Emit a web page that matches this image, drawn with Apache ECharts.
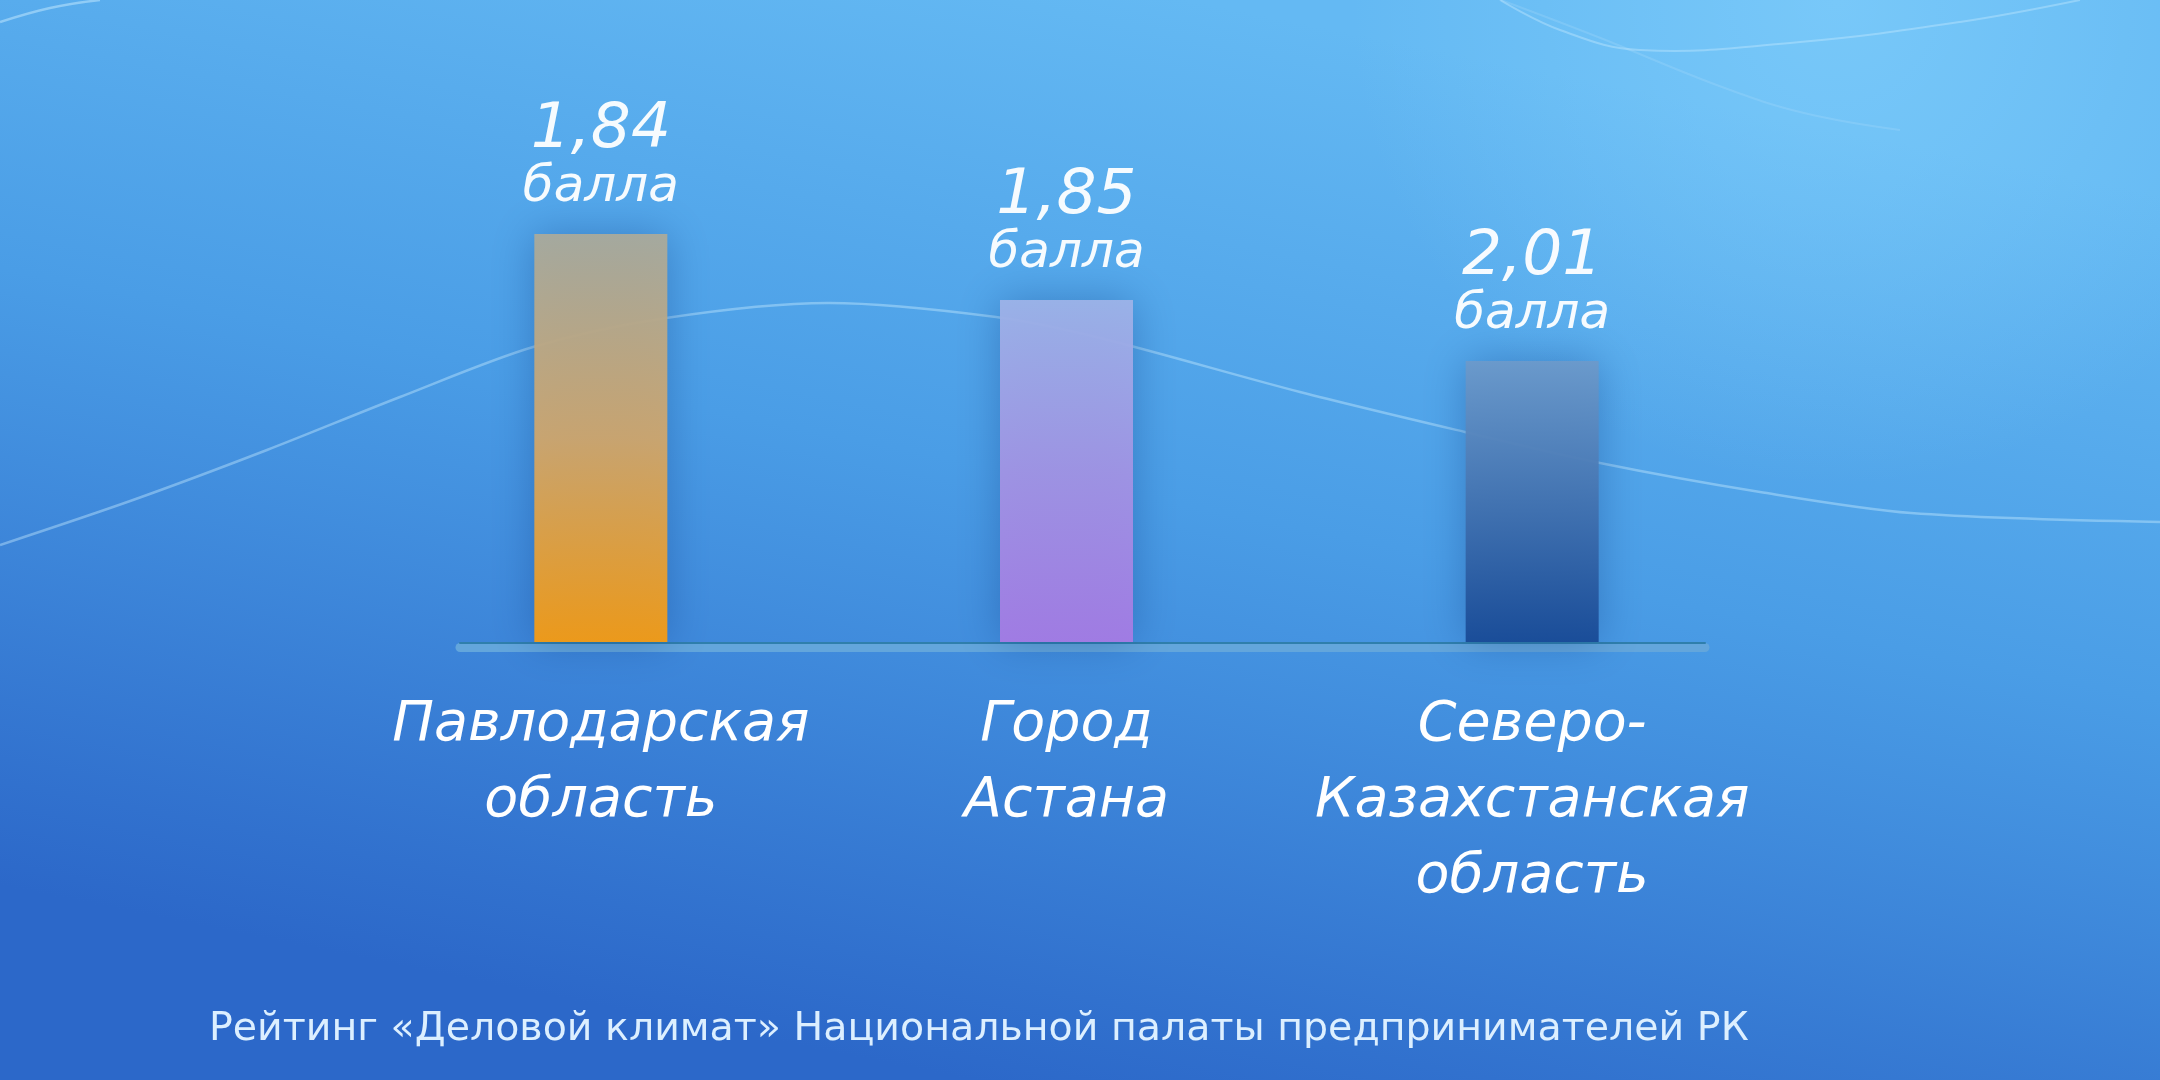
<!DOCTYPE html>
<html><head><meta charset="utf-8">
<script src="https://cdn.jsdelivr.net/npm/echarts@6/dist/echarts.min.js"></script>
<style>html,body{margin:0;padding:0;width:2160px;height:1080px;overflow:hidden;background:#3f8fdc}#c{width:2160px;height:1080px}</style>
</head><body><div id="c"></div>
<script>
const categories = ['Павлодарская\nобласть', 'Город\nАстана', 'Северо-\nКазахстанская\nобласть'];
const scores = [1.84, 1.85, 2.01];
const barHeights = [81.6, 68.4, 56.2]; // relative bar lengths (ranking display)
const scoreUnit = 'балла';
const sourceNote = 'Рейтинг «Деловой климат» Национальной палаты предпринимателей РК';

const barColors = [
  [['#a9aa9c', 0], ['#cfa66c', 0.5], ['#f59b12', 1]],
  [['#9db3e8', 0], ['#a294e4', 0.5], ['#a57be4', 1]],
  [['#6c9acb', 0], ['#3f6fae', 0.55], ['#184a96', 1]]
];

const chart = echarts.init(document.getElementById('c'), null, {renderer: 'canvas'});
const LG = echarts.graphic.LinearGradient;
const labelFont = "'DejaVu Sans', sans-serif";

const option = {
  backgroundColor: new LG(0.55, 0, 0.45, 1, [
    {offset: 0, color: '#64b9f3'},
    {offset: 0.45, color: '#4a9de6'},
    {offset: 1, color: '#2c68c9'}
  ]),
  animation: false,
  title: {
    text: sourceNote,
    left: 204, top: 1005,
    textStyle: {color: '#dcefff', fontSize: 39.5, fontWeight: 'normal', fontFamily: labelFont}
  },
  graphic: [
    {type: 'rect', z: -1, silent: true, shape: {x: 0, y: 0, width: 2160, height: 1080},
     style: {fill: new echarts.graphic.RadialGradient(0.85, 0, 0.45, [
       {offset: 0, color: 'rgba(140,215,255,0.5)'},
       {offset: 1, color: 'rgba(140,215,255,0)'}])}},
    {type: 'polyline', z: 0, silent: true,
     shape: {points: [[0,545],[133,500],[267,450],[400,397],[533,347],[666,318],[828,303],[996,317],[1100,338],[1300,392],[1465,432],[1600,463],[1760,492],[1911,513],[2160,522]], smooth: 0.3},
     style: {stroke: 'rgba(200,235,255,0.42)', lineWidth: 2.5, fill: null}},
    {type: 'polyline', z: 0, silent: true,
     shape: {points: [[0,22],[50,8],[100,0]], smooth: 0.4},
     style: {stroke: 'rgba(200,235,255,0.5)', lineWidth: 2.5, fill: null}},
    {type: 'polyline', z: 0, silent: true,
     shape: {points: [[1500,0],[1560,30],[1640,50],[1800,42],[1960,22],[2080,0]], smooth: 0.4},
     style: {stroke: 'rgba(200,235,255,0.4)', lineWidth: 2, fill: null}},
    {type: 'polyline', z: 0, silent: true,
     shape: {points: [[1501,0],[1598,37],[1722,87],[1804,113],[1900,130]], smooth: 0.4},
     style: {stroke: 'rgba(200,235,255,0.18)', lineWidth: 2, fill: null}}
  ],
  grid: [
    {left: 368, right: 395, top: 142, bottom: 438},
    {left: 460, right: 455, top: 142, bottom: 433},
    {left: 460, right: 455, top: 142, bottom: 437}
  ],
  xAxis: [
    {type: 'category', data: categories, gridIndex: 0,
     axisLine: {show: false}, axisTick: {show: false},
     axisLabel: {color: '#ffffff', fontSize: 55.5, fontStyle: 'italic', fontFamily: labelFont,
                 lineHeight: 76, margin: 46, interval: 0}},
    {type: 'category', data: [''], gridIndex: 1,
     axisLine: {show: true, lineStyle: {color: '#63a6dc', width: 9}},
     axisTick: {show: false}, axisLabel: {show: false}},
    {type: 'category', data: [''], gridIndex: 2,
     axisLine: {show: true, lineStyle: {color: '#2f7fac', width: 2}},
     axisTick: {show: false}, axisLabel: {show: false}}
  ],
  yAxis: [
    {type: 'value', min: 0, max: 100, gridIndex: 0, show: false},
    {type: 'value', gridIndex: 1, show: false},
    {type: 'value', gridIndex: 2, show: false}
  ],
  series: [{
    type: 'bar',
    xAxisIndex: 0, yAxisIndex: 0,
    barWidth: 133,
    z: 3,
    data: barHeights.map((h, i) => ({
      value: h,
      itemStyle: {
        color: new LG(0, 0, 0, 1, barColors[i].map(c => ({offset: c[1], color: c[0]}))),
        opacity: 0.95,
        shadowBlur: 40, shadowColor: 'rgba(10,50,120,0.35)'
      }
    })),
    label: {
      show: true, position: 'top', distance: 20,
      formatter: p => '{v|' + scores[p.dataIndex].toFixed(2).replace('.', ',') + '}\n{u|' + scoreUnit + '}',
      rich: {
        v: {color: '#ffffff', fontSize: 63, fontStyle: 'italic', fontFamily: labelFont, lineHeight: 62, align: 'center'},
        u: {color: '#ffffff', fontSize: 50, fontStyle: 'italic', fontFamily: labelFont, lineHeight: 52, align: 'center'}
      }
    }
  }]
};
chart.setOption(option);
</script></body></html>
